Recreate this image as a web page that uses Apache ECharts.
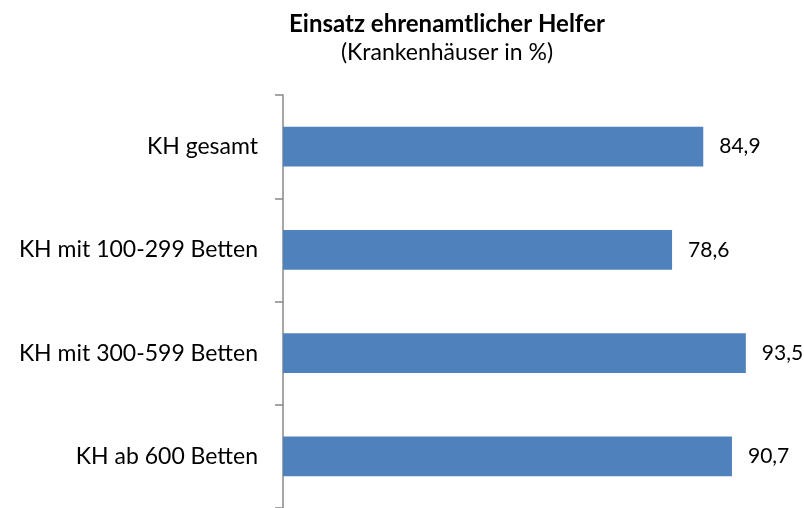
<!DOCTYPE html>
<html style="height: 100%">
<head>
    <meta charset="utf-8">
    <script src="https://cdn.jsdelivr.net/npm/echarts@6/dist/echarts.min.js"></script>
</head>
<body style="height: 100%; margin: 0">
    <div id="main" style="width:804px;height:508px;"></div>
    <script type="text/javascript">
    // Daten
    var categories = ['KH gesamt', 'KH mit 100-299 Betten', 'KH mit 300-599 Betten', 'KH ab 600 Betten'];
    var values = [84.9, 78.6, 93.5, 90.7];

    var myChart = echarts.init(document.getElementById('main'));
    var fontFam = 'Lato, "Open Sans", sans-serif';

    var option = {
        backgroundColor: '#fff',
        title: {
            text: 'Einsatz ehrenamtlicher Helfer',
            subtext: '(Krankenhäuser in %)',
            left: 442,
            textAlign: 'center',
            top: 7,
            itemGap: 5,
            textStyle: { color: '#000', fontSize: 24, fontWeight: 'bold', fontFamily: fontFam },
            subtextStyle: { color: '#000', fontSize: 23, fontFamily: fontFam }
        },
        grid: { left: 283, top: 95, width: 495, height: 416 },
        xAxis: {
            type: 'value',
            min: 0,
            max: 100,
            show: false
        },
        yAxis: {
            type: 'category',
            data: categories,
            inverse: true,
            axisLine: { lineStyle: { color: '#888', width: 1.5 } },
            axisTick: { show: true, length: 8, lineStyle: { color: '#888', width: 1.5 } },
            axisLabel: { color: '#000', fontSize: 23, margin: 25, fontFamily: fontFam }
        },
        series: [{
            type: 'bar',
            data: values,
            barCategoryGap: '61.5%',
            itemStyle: { color: '#4f81bd' },
            label: {
                show: true,
                position: 'right',
                distance: 16,
                color: '#000',
                fontSize: 21,
                fontFamily: fontFam,
                formatter: function (p) { return p.value.toFixed(1).replace('.', ','); }
            }
        }]
    };

    myChart.setOption(option, true);
    </script>
</body>
</html>
